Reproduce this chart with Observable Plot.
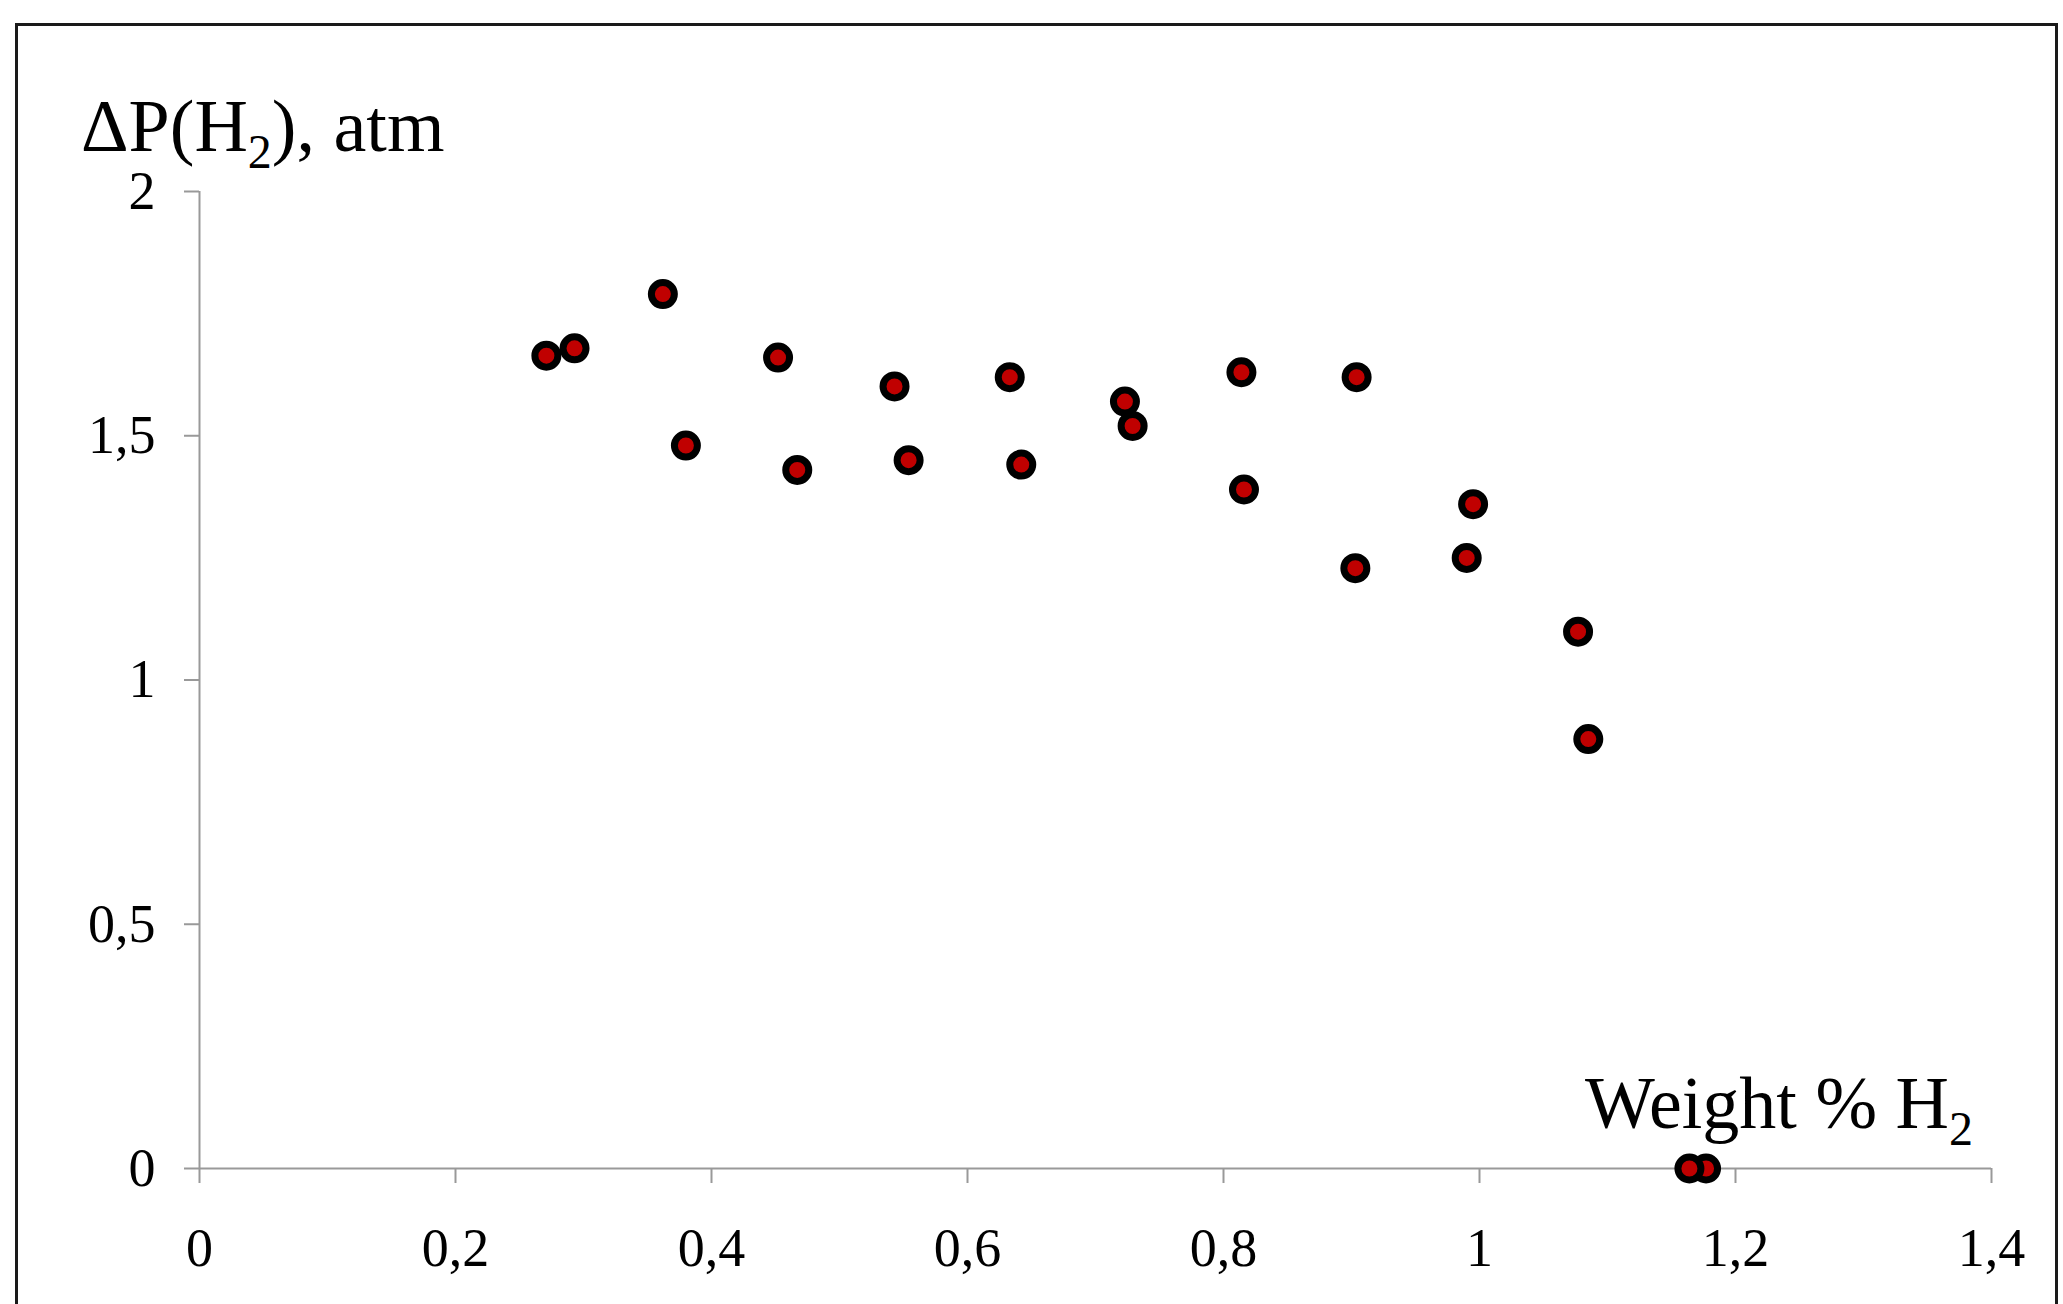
<!DOCTYPE html>
<html>
<head>
<meta charset="utf-8">
<script src="https://cdn.jsdelivr.net/npm/d3@7"></script>
<script src="https://cdn.jsdelivr.net/npm/@observablehq/plot@0.6"></script>
<style>
  html, body { margin: 0; padding: 0; background: #ffffff; overflow: hidden; }
  #wrap { position: relative; width: 2063px; height: 1304px; }
  #border { position: absolute; left: 15px; top: 23px; width: 2043px; height: 1400px;
            border: 3px solid #1a1a1a; box-sizing: border-box; pointer-events: none; }
</style>
</head>
<body>
<div id="wrap"><div id="border"></div></div>
<script>
// Weight % H2 (x) and ΔP(H2), atm (y)
const weightH2 = [0.271, 0.293, 0.362, 0.380, 0.452, 0.467, 0.543, 0.554, 0.633, 0.642,
                  0.723, 0.729, 0.814, 0.816, 0.904, 0.903, 0.995, 0.990, 1.077, 1.085,
                  1.177, 1.164];
const deltaP   = [1.664, 1.679, 1.790, 1.480, 1.660, 1.430, 1.601, 1.450, 1.620, 1.441,
                  1.570, 1.520, 1.630, 1.390, 1.620, 1.229, 1.360, 1.250, 1.099, 0.879,
                  0.000, 0.000];
const xTicks = [0, 0.2, 0.4, 0.6, 0.8, 1, 1.2, 1.4];
const yTicks = [0, 0.5, 1, 1.5, 2];
const yLabel = {main: "ΔP(H", sub: "2", tail: "), atm"};
const xLabel = {main: "Weight % H", sub: "2", tail: ""};

const data = weightH2.map((w, i) => ({w, p: deltaP[i]}));
const fmt = d => String(d).replace(".", ",");
const axisGray = "#999999";

const plot = Plot.plot({
  width: 2063,
  height: 1304,
  marginLeft: 199,
  marginRight: 72,
  marginTop: 191,
  marginBottom: 136,
  style: {fontFamily: "'Liberation Serif', 'Times New Roman', serif", color: "black", background: "transparent"},
  x: {domain: [0, 1.4]},
  y: {domain: [0, 2]},
  marks: [
    Plot.ruleY([0], {stroke: axisGray, strokeWidth: 2}),
    Plot.ruleX([0], {stroke: axisGray, strokeWidth: 2}),
    Plot.axisX({ticks: xTicks, tickFormat: fmt, tickSize: 15, tickPadding: 44,
                stroke: axisGray, strokeWidth: 2, fill: "black", fontSize: 54, label: null}),
    Plot.axisY({ticks: yTicks, tickFormat: fmt, tickSize: 15, tickPadding: 29,
                stroke: axisGray, strokeWidth: 2, fill: "black", fontSize: 54, label: null}),
    Plot.dot(data, {x: "w", y: "p", r: 11.5, fill: "#C00000", stroke: "black", strokeWidth: 7})
  ]
});

const svg = d3.select(plot);
function addLabel(lbl, x, y) {
  const t = svg.append("text")
    .attr("x", x).attr("y", y)
    .attr("text-anchor", "start")
    .attr("font-family", "'Liberation Serif', 'Times New Roman', serif")
    .attr("font-size", 74)
    .attr("fill", "black");
  t.append("tspan").text(lbl.main);
  t.append("tspan").attr("font-size", 48).attr("dy", 17).text(lbl.sub);
  if (lbl.tail) t.append("tspan").attr("dy", -17).text(lbl.tail);
}
addLabel(yLabel, 81, 151);
addLabel(xLabel, 1585, 1128);

document.getElementById("wrap").prepend(plot);
plot.style.position = "absolute";
plot.style.left = "0px";
plot.style.top = "0px";
</script>
</body>
</html>
